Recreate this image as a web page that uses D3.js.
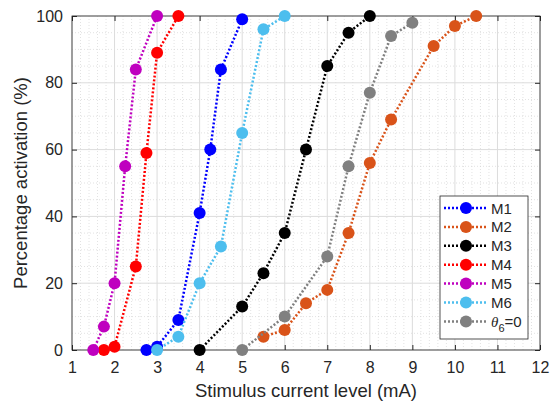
<!DOCTYPE html>
<html>
<head>
<meta charset="utf-8">
<script src="https://cdn.jsdelivr.net/npm/d3@7"></script>
<style>
  body { margin: 0; background: #fff; }
  svg { font-family: "Liberation Sans", Arial, sans-serif; }
</style>
</head>
<body>
<svg width="556" height="402"></svg>
<script>
// Series data
const seriesNames = ["M1", "M2", "M3", "M4", "M5", "M6", "theta"];
const seriesColors = ["#0000ff", "#d95319", "#000000", "#ff0000", "#bf00bf", "#4dbeee", "#808080"];

const m1X = [2.75, 3, 3.5, 4, 4.25, 4.5, 5];
const m1Y = [0, 1, 9, 41, 60, 84, 99];
const m2X = [5.5, 6, 6.5, 7, 7.5, 8, 8.5, 9.5, 10, 10.5];
const m2Y = [4, 6, 14, 18, 35, 56, 69, 91, 97, 100];
const m3X = [4, 5, 5.5, 6, 6.5, 7, 7.5, 8];
const m3Y = [0, 13, 23, 35, 60, 85, 95, 100];
const m4X = [1.75, 2, 2.5, 2.75, 3, 3.5];
const m4Y = [0, 1, 25, 59, 89, 100];
const m5X = [1.5, 1.75, 2, 2.25, 2.5, 3];
const m5Y = [0, 7, 20, 55, 84, 100];
const m6X = [3, 3.5, 4, 4.5, 5, 5.5, 6];
const m6Y = [0, 4, 20, 31, 65, 96, 100];
const thX = [5, 6, 7, 7.5, 8, 8.5, 9];
const thY = [0, 10, 28, 55, 77, 94, 98];

const xTicks = [1, 2, 3, 4, 5, 6, 7, 8, 9, 10, 11, 12];
const yTicks = [0, 20, 40, 60, 80, 100];

const allX = [m1X, m2X, m3X, m4X, m5X, m6X, thX];
const allY = [m1Y, m2Y, m3Y, m4Y, m5Y, m6Y, thY];
const series = seriesNames.map((name, i) => ({
    name: name,
    color: seriesColors[i],
    points: allX[i].map((x, j) => ({ x: x, y: allY[i][j] }))
}));

const margin = { top: 16, right: 16, bottom: 52, left: 72 };
const width = 556 - margin.left - margin.right;
const height = 402 - margin.top - margin.bottom;
const axisColor = "#262626";

const svg = d3.select("svg");
const g = svg.append("g")
    .attr("transform", "translate(" + margin.left + "," + margin.top + ")");

const xScale = d3.scaleLinear().domain([1, 12]).range([0, width]);
const yScale = d3.scaleLinear().domain([0, 100]).range([height, 0]);

// Minor grid (dotted)
const xMinor = d3.range(1, 12.001, 0.2).filter(v => Math.abs(v - Math.round(v)) > 0.01);
const yMinor = d3.range(0, 100.001, 5).filter(v => v % 20 !== 0);
g.append("g").selectAll("line").data(xMinor).enter().append("line")
    .attr("x1", d => xScale(d)).attr("x2", d => xScale(d))
    .attr("y1", 0).attr("y2", height)
    .attr("stroke", "#cfcfcf").attr("stroke-width", 0.6)
    .attr("stroke-dasharray", "1,2");
g.append("g").selectAll("line").data(yMinor).enter().append("line")
    .attr("y1", d => yScale(d)).attr("y2", d => yScale(d))
    .attr("x1", 0).attr("x2", width)
    .attr("stroke", "#cfcfcf").attr("stroke-width", 0.6)
    .attr("stroke-dasharray", "1,2");

// Major grid
g.append("g").selectAll("line").data(xTicks).enter().append("line")
    .attr("x1", d => xScale(d)).attr("x2", d => xScale(d))
    .attr("y1", 0).attr("y2", height)
    .attr("stroke", "#dcdcdc").attr("stroke-width", 1);
g.append("g").selectAll("line").data(yTicks).enter().append("line")
    .attr("y1", d => yScale(d)).attr("y2", d => yScale(d))
    .attr("x1", 0).attr("x2", width)
    .attr("stroke", "#dcdcdc").attr("stroke-width", 1);

// Axes (ticks point inward)
function styleAxis(sel, showText) {
    sel.select(".domain").remove();
    sel.selectAll(".tick line").attr("stroke", axisColor);
    sel.selectAll(".tick text")
        .attr("fill", axisColor)
        .style("font-size", "16px")
        .style("display", showText ? null : "none");
}
g.append("g").attr("transform", "translate(0," + height + ")")
    .call(d3.axisBottom(xScale).tickValues(xTicks).tickFormat(d3.format("d"))
        .tickSizeInner(-5).tickSizeOuter(0).tickPadding(12))
    .call(s => styleAxis(s, true));
g.append("g")
    .call(d3.axisTop(xScale).tickValues(xTicks).tickSizeInner(-5).tickSizeOuter(0))
    .call(s => styleAxis(s, false));
g.append("g")
    .call(d3.axisLeft(yScale).tickValues(yTicks).tickFormat(d3.format("d"))
        .tickSizeInner(-5).tickSizeOuter(0).tickPadding(9))
    .call(s => styleAxis(s, true));
g.append("g").attr("transform", "translate(" + width + ",0)")
    .call(d3.axisRight(yScale).tickValues(yTicks).tickSizeInner(-5).tickSizeOuter(0))
    .call(s => styleAxis(s, false));

g.append("rect")
    .attr("width", width).attr("height", height)
    .attr("fill", "none").attr("stroke", axisColor).attr("stroke-width", 0.8);

// Series lines and markers
const line = d3.line().x(d => xScale(d.x)).y(d => yScale(d.y));
series.forEach(s => {
    g.append("path")
        .datum(s.points)
        .attr("d", line)
        .attr("fill", "none")
        .attr("stroke", s.color)
        .attr("stroke-width", 2.5)
        .attr("stroke-dasharray", "2,2");
    g.append("g").selectAll("circle")
        .data(s.points)
        .enter().append("circle")
        .attr("cx", d => xScale(d.x))
        .attr("cy", d => yScale(d.y))
        .attr("r", 6)
        .attr("fill", s.color);
});

// Axis labels
svg.append("text")
    .attr("x", margin.left + width / 2)
    .attr("y", 397)
    .attr("text-anchor", "middle")
    .attr("fill", axisColor)
    .style("font-size", "18.5px")
    .text("Stimulus current level (mA)");
svg.append("text")
    .attr("transform", "translate(27," + (margin.top + height / 2) + ") rotate(-90)")
    .attr("text-anchor", "middle")
    .attr("fill", axisColor)
    .style("font-size", "18.5px")
    .text("Percentage activation (%)");

// Legend
const legend = svg.append("g").attr("transform", "translate(440,196)");
legend.append("rect")
    .attr("width", 88).attr("height", 143)
    .attr("fill", "#fff").attr("stroke", axisColor).attr("stroke-width", 0.8);
series.forEach((s, i) => {
    const row = legend.append("g").attr("transform", "translate(0," + (12 + i * 18.9) + ")");
    row.append("line")
        .attr("x1", 4).attr("x2", 48)
        .attr("stroke", s.color).attr("stroke-width", 2.5)
        .attr("stroke-dasharray", "2,2");
    row.append("circle").attr("cx", 26).attr("r", 6).attr("fill", s.color);
    const t = row.append("text")
        .attr("x", 51).attr("y", 5.5)
        .attr("fill", axisColor)
        .style("font-size", "15px");
    if (s.name === "theta") {
        t.append("tspan").style("font-style", "italic")
            .style("font-family", "'Liberation Serif', serif").text("\u03B8");
        t.append("tspan").attr("dy", 5).style("font-size", "11px").text("6");
        t.append("tspan").attr("dy", -5).text("=0");
    } else {
        t.text(s.name);
    }
});
</script>
</body>
</html>
